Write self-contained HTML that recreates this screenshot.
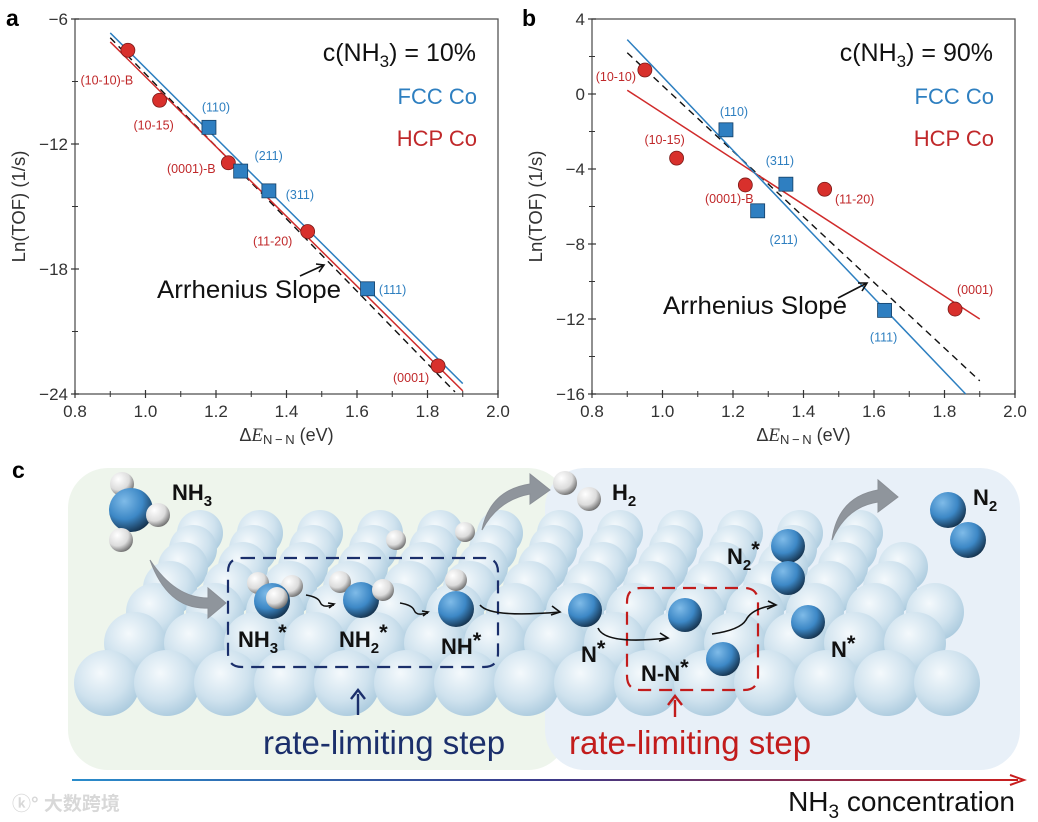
<!DOCTYPE html>
<html><head><meta charset="utf-8">
<style>
html,body{margin:0;padding:0;background:#fff;}
svg{display:block;font-family:"Liberation Sans","Noto Sans CJK SC",sans-serif;}
</style></head>
<body>
<svg id="root" width="1038" height="822" viewBox="0 0 1038 822" xmlns="http://www.w3.org/2000/svg">
<defs>
  <radialGradient id="gSurf" cx="0.4" cy="0.35" r="0.7">
    <stop offset="0" stop-color="#f4f9fc"/><stop offset="0.6" stop-color="#cfe2ee"/><stop offset="1" stop-color="#a9c9dd"/>
  </radialGradient>
  <radialGradient id="gN" cx="0.35" cy="0.3" r="0.75">
    <stop offset="0" stop-color="#7fbbe8"/><stop offset="0.55" stop-color="#3d88c6"/><stop offset="1" stop-color="#14304a"/>
  </radialGradient>
  <radialGradient id="gH" cx="0.35" cy="0.3" r="0.75">
    <stop offset="0" stop-color="#ffffff"/><stop offset="0.6" stop-color="#dcdcdc"/><stop offset="1" stop-color="#6a6a6a"/>
  </radialGradient>
  <linearGradient id="gArrow" gradientUnits="userSpaceOnUse" x1="72" x2="1016" y1="0" y2="0">
    <stop offset="0" stop-color="#2a8ccb"/><stop offset="0.5" stop-color="#3a3a8a"/><stop offset="1" stop-color="#c81e1e"/>
  </linearGradient>
</defs>

<g>
  <rect x="68" y="468" width="500" height="302" rx="40" fill="#eef5ec"/>
  <rect x="545" y="468" width="475" height="302" rx="40" fill="#e8f0f8"/>
  <g id="surface"></g>
  <g id="mols"></g>
</g>

<text x="6" y="26" font-size="23" font-weight="bold">a</text>
<text x="522" y="26" font-size="23" font-weight="bold">b</text>
<text x="12" y="478" font-size="23" font-weight="bold">c</text>

<g id="chartA"></g>
<g id="chartB"></g>
</svg>

<script>
// ===== Chart data =====
const xTicks = [0.8, 1.0, 1.2, 1.4, 1.6, 1.8, 2.0];
const xTickLabels = ["0.8", "1.0", "1.2", "1.4", "1.6", "1.8", "2.0"];
const aYTicks = [-6, -12, -18, -24];
const bYTicks = [4, 0, -4, -8, -12, -16];

const hcpX = [0.95, 1.04, 1.235, 1.46, 1.83];
const fccX = [1.18, 1.27, 1.35, 1.63];

const aHcpY = [-7.5, -9.9, -12.9, -16.2, -22.65];
const aFccY = [-11.2, -13.3, -14.25, -18.95];
const aHcpLabels = ["(10-10)-B", "(10-15)", "(0001)-B", "(11-20)", "(0001)"];
const aFccLabels = ["(110)", "(211)", "(311)", "(111)"];
const aFccFitX = [0.9, 1.9]; const aFccFitY = [-6.67, -23.5];
const aHcpFitX = [0.9, 1.9]; const aHcpFitY = [-7.1, -23.85];
const aArrX = [0.9, 1.878]; const aArrY = [-6.9, -23.9];

const bHcpY = [1.28, -3.42, -4.85, -5.08, -11.47];
const bFccY = [-1.91, -6.23, -4.81, -11.54];
const bHcpLabels = ["(10-10)", "(10-15)", "(0001)-B", "(11-20)", "(0001)"];
const bFccLabels = ["(110)", "(211)", "(311)", "(111)"];
const bFccFitX = [0.9, 1.86]; const bFccFitY = [2.9, -16.0];
const bHcpFitX = [0.9, 1.9]; const bHcpFitY = [0.2, -12.0];
const bArrX = [0.9, 1.9]; const bArrY = [2.2, -15.3];

// label offsets (px) relative to marker
const aHcpOff = [[-21,34],[-6,29],[-37,10],[-35,14],[-27,16]];
const aFccOff = [[7,-16],[28,-11],[31,8],[25,5]];
const bHcpOff = [[-29,11],[-12,-14],[-16,18],[30,14],[20,-15]];
const bFccOff = [[8,-14],[26,33],[-6,-19],[-1,31]];

const NS = "http://www.w3.org/2000/svg";
function mk(tag, attrs, parent){const e=document.createElementNS(NS,tag);for(const k in attrs)e.setAttribute(k,attrs[k]);parent.appendChild(e);return e;}

const BLUE="#2d7fc0", RED="#d02b2b", TRED="#c0282a", TBLUE="#2e7fc0";

function drawChart(g, x0, yTop, yMax, yMin, yTicks, yMinorStep, d){
  const W=423, H=375, yB=yTop+H;
  const sx=v=>x0+(v-0.8)/1.2*W;
  const sy=v=>yTop+(yMax-v)/(yMax-yMin)*H;
  const frame=mk("rect",{x:x0,y:yTop,width:W,height:H,fill:"none",stroke:"#555","stroke-width":1.3},g);
  
  
  for(let i=0;i<xTicks.length;i++){
    const X=sx(xTicks[i]);
    const t=mk("line",{x1:X,x2:X,y1:yB-4,y2:yB+4,stroke:"#333","stroke-width":1.2},g);
    
    
    const l=mk("text",{x:X,y:yB+23,"font-size":17,"text-anchor":"middle",fill:"#333"},g);
    l.textContent=xTickLabels[i];
    
    
    if(i<xTicks.length-1){
      const Xm=sx(xTicks[i]+0.1);
      const m=mk("line",{x1:Xm,x2:Xm,y1:yB-3,y2:yB+3,stroke:"#333","stroke-width":1},g);
      
      
    }
  }
  for(let i=0;i<yTicks.length;i++){
    const Y=sy(yTicks[i]);
    const t=mk("line",{x1:x0-4,x2:x0+4,y1:Y,y2:Y,stroke:"#333","stroke-width":1.2},g);
    
    
    const l=mk("text",{x:x0-7,y:Y+6,"font-size":17,"text-anchor":"end",fill:"#333"},g);
    l.textContent=String(yTicks[i]).replace("-","\u2212");
    
    
    if(i<yTicks.length-1){
      const Ym=sy(yTicks[i]-yMinorStep);
      const m=mk("line",{x1:x0-3,x2:x0+3,y1:Ym,y2:Ym,stroke:"#333","stroke-width":1},g);
      
      
    }
  }
  const yt=mk("text",{x:0,y:0,"font-size":18.5,"text-anchor":"middle",fill:"#333",transform:`translate(${x0-50},${yTop+H/2}) rotate(-90)`},g);
  yt.textContent="Ln(TOF) (1/s)";
  
  
  const xt=mk("text",{x:x0+W/2,y:yB+47,"font-size":18,"text-anchor":"middle",fill:"#333"},g);
  xt.innerHTML='\u0394<tspan font-family="Liberation Serif" font-style="italic" font-size="19">E</tspan><tspan font-size="13" dy="3">N\u2009\u2212\u2009N</tspan><tspan dy="-3"> (eV)</tspan>';
  
  
  const la=mk("line",{x1:sx(d.arrX[0]),y1:sy(d.arrY[0]),x2:sx(d.arrX[1]),y2:sy(d.arrY[1]),stroke:"#111","stroke-width":1.4,"stroke-dasharray":"7,5"},g);
  
  
  const lh=mk("line",{x1:sx(d.hcpFitX[0]),y1:sy(d.hcpFitY[0]),x2:sx(d.hcpFitX[1]),y2:sy(d.hcpFitY[1]),stroke:RED,"stroke-width":1.5},g);
  
  
  const lf=mk("line",{x1:sx(d.fccFitX[0]),y1:sy(d.fccFitY[0]),x2:sx(d.fccFitX[1]),y2:sy(d.fccFitY[1]),stroke:BLUE,"stroke-width":1.5},g);
  
  
  for(let i=0;i<hcpX.length;i++){
    const X=sx(hcpX[i]),Y=sy(d.hcpY[i]);
    const c=mk("circle",{cx:X,cy:Y,r:7,fill:"#d8302c",stroke:"#7a1a18","stroke-width":0.8},g);
    
    
    const t=mk("text",{x:X+d.hOff[i][0],y:Y+d.hOff[i][1],"font-size":12.5,"text-anchor":"middle",fill:TRED},g);
    t.textContent=d.hLab[i];
    
    
  }
  for(let i=0;i<fccX.length;i++){
    const X=sx(fccX[i]),Y=sy(d.fccY[i]);
    const r=mk("rect",{x:X-7,y:Y-7,width:14,height:14,fill:"#2f7fc1",stroke:"#143f66","stroke-width":0.8},g);
    
    
    const t=mk("text",{x:X+d.fOff[i][0],y:Y+d.fOff[i][1],"font-size":12.5,"text-anchor":"middle",fill:TBLUE},g);
    t.textContent=d.fLab[i];
    
    
  }
  const ti=mk("text",{x:x0+W-22,y:yTop+42,"font-size":25,"text-anchor":"end",fill:"#111"},g);
  ti.innerHTML='c(NH<tspan font-size="17" dy="6">3</tspan><tspan dy="-6">) = '+d.title+'</tspan>';
  
  
  const f=mk("text",{x:x0+W-21,y:yTop+85,"font-size":22,"text-anchor":"end",fill:TBLUE},g);
  f.textContent="FCC Co";
  
  
  const h=mk("text",{x:x0+W-21,y:yTop+127,"font-size":22,"text-anchor":"end",fill:TRED},g);
  h.textContent="HCP Co";
  
  
  const as=mk("text",{x:d.asX,y:d.asY,"font-size":25,fill:"#111",textLength:184,lengthAdjust:"spacingAndGlyphs"},g);
  as.textContent="Arrhenius Slope";
  
  
  const ar=mk("path",{d:d.arrow,stroke:"#111","stroke-width":1.6,fill:"none"},g);
  
  
}

drawChart(document.getElementById("chartA"),75,19,-6,-24,aYTicks,3,{
  hcpY:aHcpY,fccY:aFccY,hLab:aHcpLabels,fLab:aFccLabels,hOff:aHcpOff,fOff:aFccOff,
  fccFitX:aFccFitX,fccFitY:aFccFitY,hcpFitX:aHcpFitX,hcpFitY:aHcpFitY,arrX:aArrX,arrY:aArrY,
  title:"10%",asX:157,asY:298,arrow:"M300,276 L324,265 M316,264 L324,265 L319,272"});
drawChart(document.getElementById("chartB"),592,19,4,-16,bYTicks,2,{
  hcpY:bHcpY,fccY:bFccY,hLab:bHcpLabels,fLab:bFccLabels,hOff:bHcpOff,fOff:bFccOff,
  fccFitX:bFccFitX,fccFitY:bFccFitY,hcpFitX:bHcpFitX,hcpFitY:bHcpFitY,arrX:bArrX,arrY:bArrY,
  title:"90%",asX:663,asY:314,arrow:"M838,298 L867,283 M858,283 L867,283 L862,291"});

// ===== Panel c illustration =====
const surf=document.getElementById("surface");
const rowsY=[533,549,567,588,612,643,683];
const rowsR=[23,24,25,27,29,31,33];
const rowsStart=[200,193,183,170,155,135,107];
const rowsN=[12,12,13,13,14,14,15];
for(let k=0;k<rowsY.length;k++){
  for(let j=0;j<rowsN[k];j++){
    const c=mk("circle",{cx:rowsStart[k]+j*60,cy:rowsY[k],r:rowsR[k],fill:"url(#gSurf)"},surf);
    
    
  }
}
const M=document.getElementById("mols");
function atom(x,y,r,type){const c=mk("circle",{cx:x,cy:y,r:r,fill:type==="N"?"url(#gN)":"url(#gH)"},M);
  
  }
function txt(x,y,html,size,color,weight,name,anchor){const t=mk("text",{x:x,y:y,"font-size":size,fill:color,"font-weight":weight||"normal","text-anchor":anchor||"start"},M);t.innerHTML=html;
  
  }
function path(d,stroke,w,dash,name,fill){const p=mk("path",{d:d,stroke:stroke,"stroke-width":w,fill:fill||"none"},M);if(dash)p.setAttribute("stroke-dasharray",dash);
  
  }

path("M150,560 Q175,598 208,598 L208,588 L226,603 L208,618 L208,608 Q168,610 150,560 Z","#8a8f96",1,null,"adsorption-arrow","#8f959c");
path("M482,530 Q490,490 530,484 L530,474 L550,490 L530,504 L530,494 Q498,500 482,530 Z","#8a8f96",1,null,"h2-desorption-arrow","#8f959c");
path("M832,540 Q838,497 878,490 L878,480 L898,497 L878,512 L878,502 Q846,507 832,540 Z","#8a8f96",1,null,"n2-desorption-arrow","#8f959c");

atom(122,484,12,"H"); atom(131,510,22,"N"); atom(158,515,12,"H"); atom(121,540,12,"H");
txt(172,500,'NH<tspan font-size="15" dy="6">3</tspan>',22,"#111","bold","nh3-gas-label");
atom(396,540,10,"H"); atom(465,532,10,"H");
atom(565,483,12,"H"); atom(589,499,12,"H");
txt(612,500,'H<tspan font-size="15" dy="6">2</tspan>',22,"#111","bold","h2-label");
atom(948,510,18,"N"); atom(968,540,18,"N");
txt(973,505,'N<tspan font-size="15" dy="6">2</tspan>',22,"#111","bold","n2-label");

path("M242,558 H484 Q498,558 498,572 V653 Q498,667 484,667 H242 Q228,667 228,653 V572 Q228,558 242,558 Z","#1b2f6b",2.2,"13,8","navy-rate-limiting-box");
path("M641,588 H744 Q758,588 758,602 V676 Q758,690 744,690 H641 Q627,690 627,676 V602 Q627,588 641,588 Z","#c21c1c",2.2,"13,8","red-rate-limiting-box");

atom(258,583,11,"H"); atom(292,586,11,"H"); atom(272,601,18,"N"); atom(277,598,11,"H");
atom(340,582,11,"H"); atom(361,600,18,"N"); atom(383,590,11,"H");
atom(456,580,11,"H"); atom(456,609,18,"N");
atom(585,610,17,"N");
atom(685,615,17,"N"); atom(723,659,17,"N");
atom(788,546,17,"N"); atom(788,578,17,"N"); atom(808,622,17,"N");

path("M306,595 q12,2 14,7 q2,5 8,4 l6,-1","#111",1.5,null,"step-arrow-1");
path("M400,603 q12,2 14,7 q2,5 8,4 l6,-1","#111",1.5,null,"step-arrow-2");
path("M480,605 Q490,618 560,612","#111",1.6,null,"step-arrow-3");
path("M598,628 Q605,645 668,638","#111",1.6,null,"step-arrow-4");
path("M712,634 Q740,630 746,620 Q752,608 776,605","#111",1.6,null,"step-arrow-5");
path("M328,603 l6,1 l-5,4 M422,611 l6,1 l-5,4 M552,606 l8,6 l-9,3 M660,633 l8,5 l-9,3 M768,601 l8,4 l-9,4","#111",1.6,null,"arrow-heads");

txt(238,647,'NH<tspan font-size="15" dy="6">3</tspan><tspan dy="-13">*</tspan>',22,"#111","bold","nh3-adsorbed-label");
txt(339,647,'NH<tspan font-size="15" dy="6">2</tspan><tspan dy="-13">*</tspan>',22,"#111","bold","nh2-adsorbed-label");
txt(441,654,'NH<tspan dy="-6">*</tspan>',22,"#111","bold","nh-adsorbed-label");
txt(581,662,'N<tspan dy="-6">*</tspan>',22,"#111","bold","n-adsorbed-label");
txt(641,681,'N-N<tspan dy="-6">*</tspan>',22,"#111","bold","n-n-label");
txt(727,564,'N<tspan font-size="15" dy="6">2</tspan><tspan dy="-13">*</tspan>',22,"#111","bold","n2-adsorbed-label");
txt(831,657,'N<tspan dy="-6">*</tspan>',22,"#111","bold","n-adsorbed-label-2");

path("M358,715 V694 M351,699 L358,690 L365,699","#1b2f6b",2.4,null,"navy-pointer");
path("M675,717 V700 M668,705 L675,696 L682,705","#c21c1c",2.4,null,"red-pointer");
txt(263,754,"rate-limiting step",33,"#1b2f6b","normal","rate-limiting-label-navy");
txt(569,754,"rate-limiting step",33,"#c21c1c","normal","rate-limiting-label-red");

path("M72,780 H1018","url(#gArrow)",2,null,"concentration-axis");
path("M1010,775 L1024,780 L1010,785","#c81e1e",2,null,"concentration-arrowhead");
txt(1015,811,'NH<tspan font-size="19" dy="7">3</tspan><tspan dy="-7"> concentration</tspan>',28,"#111","normal","concentration-label","end");
txt(12,810,"\u24DA\u00B0 \u5927\u6570\u8de8\u5883",19,"#d8d8d8","bold","watermark");
</script>
</body></html>
